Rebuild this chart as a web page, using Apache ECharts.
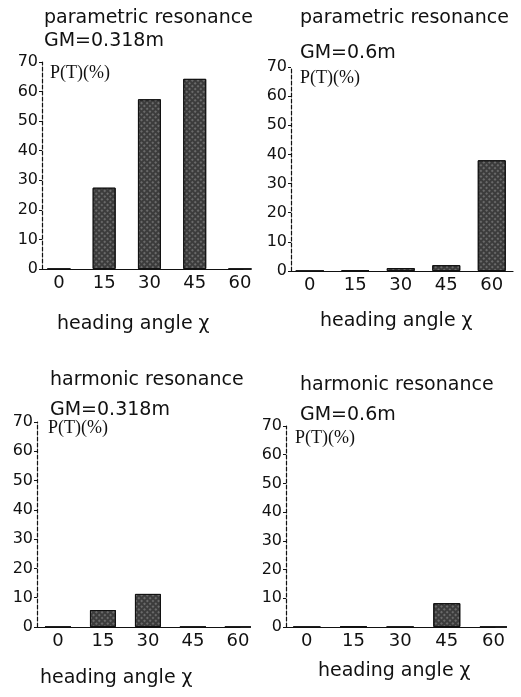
<!DOCTYPE html>
<html>
<head>
<meta charset="utf-8">
<script src="https://cdn.jsdelivr.net/npm/echarts@6/dist/echarts.min.js"></script>
<style>html,body{margin:0;padding:0;background:#fff}#c{width:521px;height:697px}</style>
</head>
<body>
<div id="c"></div>
<script>
// heading angles (categories)
var headingAngles = [0, 15, 30, 45, 60];
var xTickLabels = [0, 15, 30, 45, 60];
var yTickLabels = [0, 10, 20, 30, 40, 50, 60, 70];
// P(T) (%) values
var paramGM0318 = [0, 27.5, 57.4, 64.3, 0];
var paramGM06 = [0, 0.3, 1, 2, 38];
var harmGM0318 = [0, 5.8, 11.3, 0, 0];
var harmGM06 = [0, 0.3, 0, 8.3, 0];

var titles = ['parametric resonance', 'parametric resonance', 'harmonic resonance', 'harmonic resonance'];
var gmLabels = ['GM=0.318m', 'GM=0.6m', 'GM=0.318m', 'GM=0.6m'];
var pLabel = 'P(T)(%)';
var xName = 'heading angle \u03c7';

var panels = [
  {vals: paramGM0318, grid: {left: 42, top: 62, width: 201, height: 207}, xmin: -5.6, xmax: 61, bw: 23,
   t: [44, 10], g: [44, 33], p: [50, 64], h: [57, 316]},
  {vals: paramGM06, grid: {left: 291, top: 67, width: 222, height: 204}, xmin: -6.2, xmax: 67, bw: 28,
   t: [300, 10], g: [300, 45], p: [300, 69], h: [320, 313]},
  {vals: harmGM0318, grid: {left: 37, top: 422, width: 203, height: 205}, xmin: -7, xmax: 60.7, bw: 26,
   t: [50, 372], g: [50, 402], p: [48, 419], h: [40, 670]},
  {vals: harmGM06, grid: {left: 286, top: 426, width: 209, height: 201}, xmin: -6.7, xmax: 60.5, bw: 27,
   t: [300, 377], g: [300, 407], p: [295, 429], h: [318, 663]}
];

var sans = 'DejaVu Sans';
var grids = [], xAxes = [], yAxes = [], series = [], titleArr = [];
panels.forEach(function (pn, i) {
  grids.push(pn.grid);
  xAxes.push({
    type: 'value', gridIndex: i, min: pn.xmin, max: pn.xmax,
    axisLine: {show: true, lineStyle: {color: '#111', width: 1.2}},
    axisTick: {show: false},
    splitLine: {show: false},
    axisLabel: {customValues: xTickLabels, color: '#111', fontFamily: sans, fontSize: 18, margin: 5}
  });
  yAxes.push({
    type: 'value', gridIndex: i, min: 0, max: 70, interval: 10,
    axisLine: {show: true, onZero: false, lineStyle: {color: '#111', width: 1.2, type: [4, 2]}},
    axisTick: {show: true, length: 3, lineStyle: {color: '#111'}},
    splitLine: {show: false},
    axisLabel: {color: '#111', fontFamily: sans, fontSize: 16, margin: 4}
  });
  series.push({
    type: 'bar', xAxisIndex: i, yAxisIndex: i, barWidth: pn.bw,
    data: headingAngles.map(function (a, k) { return [a, pn.vals[k]]; }),
    itemStyle: {
      color: '#3c3c3c', borderColor: '#111', borderWidth: 1,
      decal: {symbol: 'rect', symbolSize: 0.7, color: 'rgba(255,255,255,0.45)',
              dashArrayX: [2, 2], dashArrayY: [2, 2], rotation: 0.785}
    },
    silent: true, animation: false
  });
  var ts = {color: '#111', fontFamily: sans, fontSize: 19, fontWeight: 'normal'};
  titleArr.push({text: titles[i], left: pn.t[0], top: pn.t[1] - 1, padding: 0, textStyle: ts});
  titleArr.push({text: gmLabels[i], left: pn.g[0], top: pn.g[1] - 1, padding: 0, textStyle: ts});
  titleArr.push({text: pLabel, left: pn.p[0], top: pn.p[1], padding: 0,
    textStyle: {color: '#111', fontFamily: 'Liberation Serif', fontSize: 18, fontWeight: 'normal'}});
  titleArr.push({text: xName, left: pn.h[0], top: pn.h[1] - 1, padding: 0, textStyle: ts});
});

var chart = echarts.init(document.getElementById('c'));
chart.setOption({
  backgroundColor: '#fff',
  animation: false,
  title: titleArr,
  grid: grids,
  xAxis: xAxes,
  yAxis: yAxes,
  series: series
});
</script>
</body>
</html>
